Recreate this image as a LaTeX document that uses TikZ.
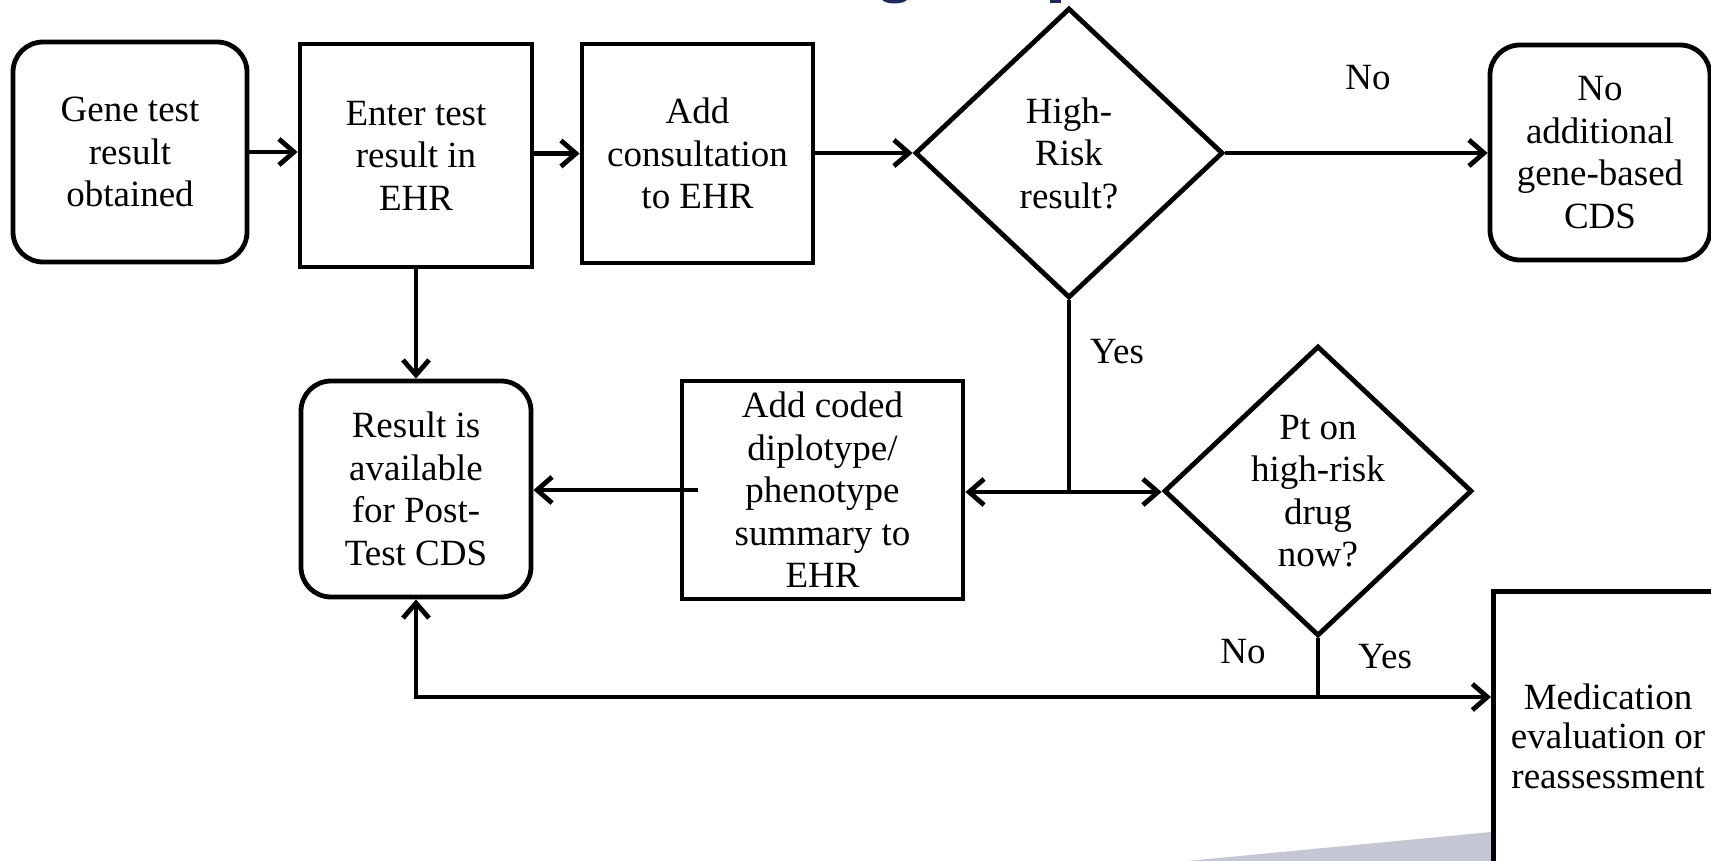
\documentclass[tikz,border=0pt]{standalone}
\usepackage{fontspec}
\setmainfont{Liberation Serif}
\usetikzlibrary{shapes.geometric,arrows.meta}
\definecolor{wedgegray}{RGB}{197,200,212}
\definecolor{titleblue}{RGB}{31,42,92}
\begin{document}
\begin{tikzpicture}[x=1pt,y=-1pt,
 txt/.style={font=\fontsize{37}{42.5}\selectfont, align=center, inner sep=0pt},
 sq/.style={txt, draw, line width=4.8pt},
 rnd/.style={sq, rounded corners=30pt},
 dia/.style={draw, line width=4.8pt, diamond, inner sep=0pt, minimum width=308pt, minimum height=290pt},
 arr/.style={line width=4.8pt, -{Straight Barb[length=15pt,width=26pt]}},
 ln/.style={line width=4.8pt}]
\useasboundingbox (0,0) rectangle (1711,861);
\clip (0,0) rectangle (1711,861);
% clipped title fragments at the top edge
\fill[titleblue] (882,-1) arc[start angle=180, end angle=360, x radius=12.5pt, y radius=4.5pt] -- cycle;
\fill[titleblue] (1050,-1) rectangle (1061,3.5);
\fill[wedgegray] (1187,861) -- (1491,832) -- (1491,861) -- cycle;
% top row
\node[rnd, minimum width=234pt, minimum height=220pt] (gene) at (130,152) {Gene test\\result\\obtained};
\node[sq, minimum width=232pt, minimum height=223pt] (enter) at (416,155.5) {Enter test\\result in\\EHR};
\node[sq, minimum width=231pt, minimum height=219pt] (add) at (697.5,153.5) {Add\\consultation\\to EHR};
\node[dia] (d1) at (1069,153) {};
\node[txt] (d1t) at (d1) {High-\\Risk\\result?};
\node[rnd, minimum width=220pt, minimum height=215pt] (nocds) at (1600,152.5) {No\\additional\\gene-based\\CDS};
% middle row
\node[rnd, minimum width=230pt, minimum height=216pt] (res) at (416,489) {Result is\\available\\for Post-\\Test CDS};
\node[sq, minimum width=281pt, minimum height=218pt] (ac) at (822.5,490) {Add coded\\diplotype/\\phenotype\\summary to\\EHR};
\node[dia] (d2) at (1318,491) {};
\node[txt] (d2t) at (d2) {Pt on\\high-risk\\drug\\now?};
% medication box
\node[sq, minimum width=260pt, minimum height=320pt, anchor=north west] (med) at (1491,589) {};
\node[txt, font=\fontsize{37}{39.5}\selectfont] (medt) at (1608,736) {Medication\\evaluation or\\reassessment};
% labels
\node[txt] (lno1) at (1368,78) {No};
\node[txt] (lyes1) at (1117,352) {Yes};
\node[txt] (lno2) at (1243,652) {No};
\node[txt] (lyes2) at (1385,657) {Yes};
% junctions
\coordinate (j1) at (1069,492);
\coordinate (j2) at (1318,697);
% connectors
\draw[arr] (gene.east) -- (gene.east -| enter.west);
\draw[arr] (enter.east |- add.west) -- (add.west);
\draw[arr] (add.east |- d1.west) -- (d1.west);
\draw[arr] (d1.east) -- (d1.east -| nocds.west);
\draw[arr] (enter.south) -- (res.north);
\draw[ln] (d1.south) -- (j1);
\draw[arr] (j1) -- (j1 -| ac.east);
\draw[arr] (j1) -- (j1 -| d2.west);
\draw[arr] ([xshift=18pt]ac.west) -- (res.east |- ac.west);
\draw[ln] (d2.south) -- (j2);
\draw[arr] (j2) -| (res.south);
\draw[arr] (j2) -- (j2 -| med.west);
\end{tikzpicture}
\end{document}
